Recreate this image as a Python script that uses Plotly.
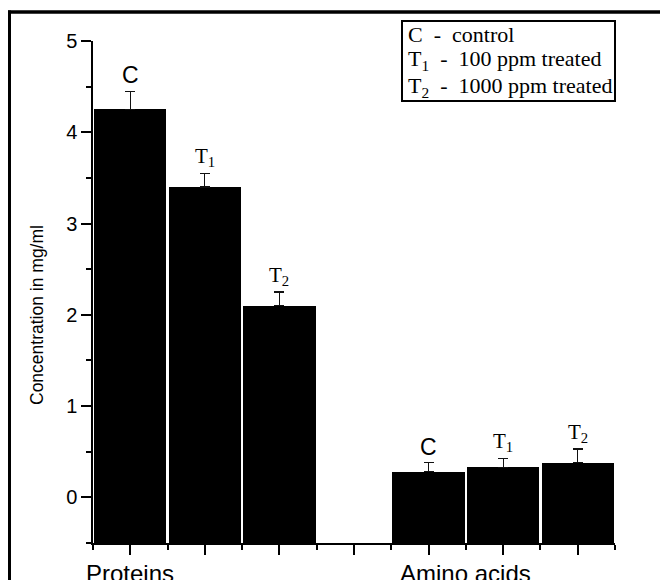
import plotly.graph_objects as go

groups = ["Proteins", "Amino acids"]
treatments = ["C", "T<sub>1</sub>", "T<sub>2</sub>"]
protein_values = [4.25, 3.40, 2.10]
protein_errors = [0.20, 0.15, 0.15]
amino_values = [0.28, 0.33, 0.38]
amino_errors = [0.10, 0.10, 0.15]
y_ticks = [0, 1, 2, 3, 4, 5]
NB = "\u00a0"
legend_lines = [
    "C" + NB + " - " + NB + "control",
    "T<sub>1</sub>" + NB + " - " + NB + "100 ppm treated",
    "T<sub>2</sub>" + NB + " - " + NB + "1000 ppm treated",
]

W, H = 660, 580
L, R, T, B = 93, 45, 41, 37
base = -0.5

values = protein_values + amino_values
errors = protein_errors + amino_errors
xs = []
for g in range(len(groups)):
    for t in range(len(treatments)):
        xs.append(g * 4 + t + 1)

fig = go.Figure()
fig.add_trace(go.Bar(
    x=xs,
    y=[v - base for v in values],
    base=base,
    width=0.97,
    marker=dict(color="black", line=dict(width=0)),
    error_y=dict(type="data", symmetric=False, array=errors,
                 arrayminus=[0] * len(errors), color="#111111",
                 thickness=1.2, width=5),
    showlegend=False,
    hoverinfo="skip",
))

pw = W - L - R
ph = H - T - B
fx = lambda px: (px - L) / pw
fy = lambda py: (H - B - py) / ph

annotations = []
for i, (x, v, e) in enumerate(zip(xs, values, errors)):
    lab = treatments[i % 3]
    if lab == "C":
        font = dict(family="Arial, Liberation Sans", size=23, color="black")
    else:
        font = dict(family="Times New Roman, Liberation Serif", size=21, color="black")
    annotations.append(dict(x=x, y=v + e, xref="x", yref="y", text=lab,
                            showarrow=False, yanchor="bottom", yshift=1,
                            font=font))

# group labels under the axis
group_pos = [1, 5.5]
for gname, gx in zip(groups, group_pos):
    annotations.append(dict(x=gx, y=0, xref="x", yref="paper", text=gname,
                            showarrow=False, yanchor="top", yshift=-15,
                            font=dict(family="Arial, Liberation Sans", size=24, color="black")))

# y axis title
annotations.append(dict(x=fx(37), y=fy(315), xref="paper", yref="paper",
                        xanchor="center", yanchor="middle",
                        text="Concentration in mg/ml",
                        textangle=-90, showarrow=False,
                        font=dict(family="Arial, Liberation Sans", size=17.5, color="black")))

# legend box lines
legend_y = [34.5, 60.5, 86.5]
for txt, ly in zip(legend_lines, legend_y):
    annotations.append(dict(x=fx(406), y=fy(ly), xref="paper", yref="paper",
                            xanchor="left", yanchor="middle", text=txt,
                            showarrow=False,
                            font=dict(family="Times New Roman, Liberation Serif", size=22, color="black")))

shapes = [
    dict(type="line", xref="paper", yref="paper", x0=fx(9.5), x1=fx(9.5), y0=fy(10.5), y1=fy(600),
         line=dict(color="black", width=3)),
    dict(type="line", xref="paper", yref="paper", x0=fx(8), x1=fx(700), y0=fy(12), y1=fy(12),
         line=dict(color="black", width=3.5)),
    dict(type="rect", xref="paper", yref="paper", x0=fx(402), x1=fx(615), y0=fy(21), y1=fy(101),
         line=dict(color="black", width=2), fillcolor="rgba(0,0,0,0)"),
]

fig.update_layout(
    width=W, height=H,
    margin=dict(l=L, r=R, t=T, b=B),
    paper_bgcolor="white", plot_bgcolor="white",
    annotations=annotations, shapes=shapes,
    bargap=0,
    xaxis=dict(range=[0.5, 7.5], showgrid=False, zeroline=False,
               showline=True, linecolor="black", linewidth=1.5,
               tickmode="array", tickvals=list(range(1, 8)), ticktext=[""] * 7,
               ticks="outside", ticklen=10, tickwidth=1.5, tickcolor="black",
               minor=dict(tickmode="array", tickvals=[k + 0.5 for k in range(0, 8)],
                          ticks="outside", ticklen=5, tickwidth=1.5, tickcolor="black")),
    yaxis=dict(range=[-0.5, 5], showgrid=False, zeroline=False,
               showline=True, linecolor="black", linewidth=1.5,
               tickmode="array", tickvals=y_ticks, ticks="outside",
               ticklen=10, tickwidth=1.5, tickcolor="black",
               tickfont=dict(family="Arial, Liberation Sans", size=20, color="black"),
               minor=dict(tickmode="array", tickvals=[k + 0.5 for k in range(-1, 5)],
                          ticks="outside", ticklen=5, tickwidth=1.5, tickcolor="black")),
)

fig.write_html("out.html", config={"displayModeBar": False},
               post_script="document.body.style.margin='0px';document.body.style.overflow='hidden';")
